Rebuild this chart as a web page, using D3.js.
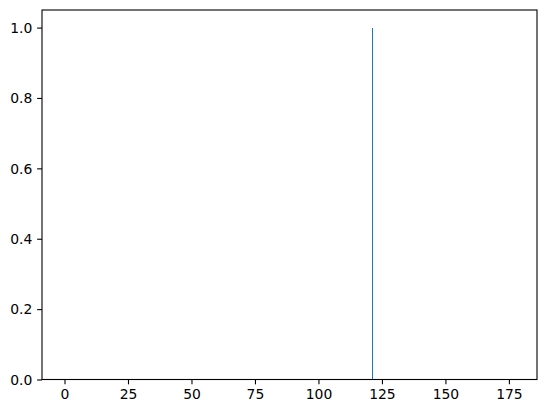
<!DOCTYPE html>
<html>
<head>
<meta charset="utf-8">
<script src="https://cdn.jsdelivr.net/npm/d3@7"></script>
<style>
  body { margin: 0; background: #fff; }
  svg { display: block; }
  .tick text { font-family: "DejaVu Sans", sans-serif; font-size: 13.9px; fill: #000; }
</style>
</head>
<body>
<div id="vis"></div>
<script>
// histogram: bin start, bin width and height of the non-empty bins
var binStarts = [121];
var binWidths = [0.4];
var binHeights = [1.0];
// full data range covered by the bins
var dataRange = [0, 177.2];
var xTicks = [0, 25, 50, 75, 100, 125, 150, 175];
var yTicks = [0, 0.2, 0.4, 0.6, 0.8, 1.0];

var theMargins = { top: 10, right: 10, bottom: 33.5, left: 42 };
var width = 547 - theMargins.left - theMargins.right;
var height = 413 - theMargins.top - theMargins.bottom;

// matplotlib style 5% margins on x, sticky 0 on y
var pad = 0.05 * (dataRange[1] - dataRange[0]);
var x = d3.scaleLinear()
    .domain([dataRange[0] - pad, dataRange[1] + pad])
    .range([0, width]);

var y = d3.scaleLinear()
    .domain([0, d3.max(binHeights) * 1.05])
    .range([height, 0]);

var tickLen = 4.86;

var xAxis = d3.axisBottom(x)
    .tickValues(xTicks)
    .tickFormat(d3.format("d"))
    .tickSize(tickLen)
    .tickPadding(tickLen);

var yAxis = d3.axisLeft(y)
    .tickValues(yTicks)
    .tickFormat(d3.format(".1f"))
    .tickSize(tickLen)
    .tickPadding(tickLen);

var chart = d3.select('#vis').append('svg')
    .attr("width", 547)
    .attr("height", 413);

var vis = chart.append('g')
    .attr("transform", "translate(" + theMargins.left + "," + theMargins.top + ")");

// bars (at least one pixel wide, kept crisp like the reference)
vis.selectAll("rect.bar")
    .data(binStarts)
    .enter().append("rect")
    .attr("class", "bar")
    .attr("x", function(d, i) { return x(d); })
    .attr("width", function(d, i) { return Math.max(1, x(d + binWidths[i]) - x(d)); })
    .attr("y", function(d, i) { return y(binHeights[i]); })
    .attr("height", function(d, i) { return y(0) - y(binHeights[i]); })
    .attr("fill", "#1f77b4")
    .attr("shape-rendering", "crispEdges");

var gx = vis.append("g")
    .attr("class", "theXAxis")
    .attr("transform", "translate(0," + height + ")")
    .call(xAxis);
gx.select(".domain").remove();

var gy = vis.append("g")
    .attr("class", "theYAxis")
    .call(yAxis);
gy.select(".domain").remove();

vis.selectAll(".tick line").attr("stroke", "#000").attr("stroke-width", 1.1);
gy.selectAll(".tick text").attr("dy", "0.35em");

// frame
vis.append("rect")
    .attr("width", width)
    .attr("height", height)
    .attr("fill", "none")
    .attr("stroke", "#000")
    .attr("stroke-width", 1.1);
</script>
</body>
</html>
